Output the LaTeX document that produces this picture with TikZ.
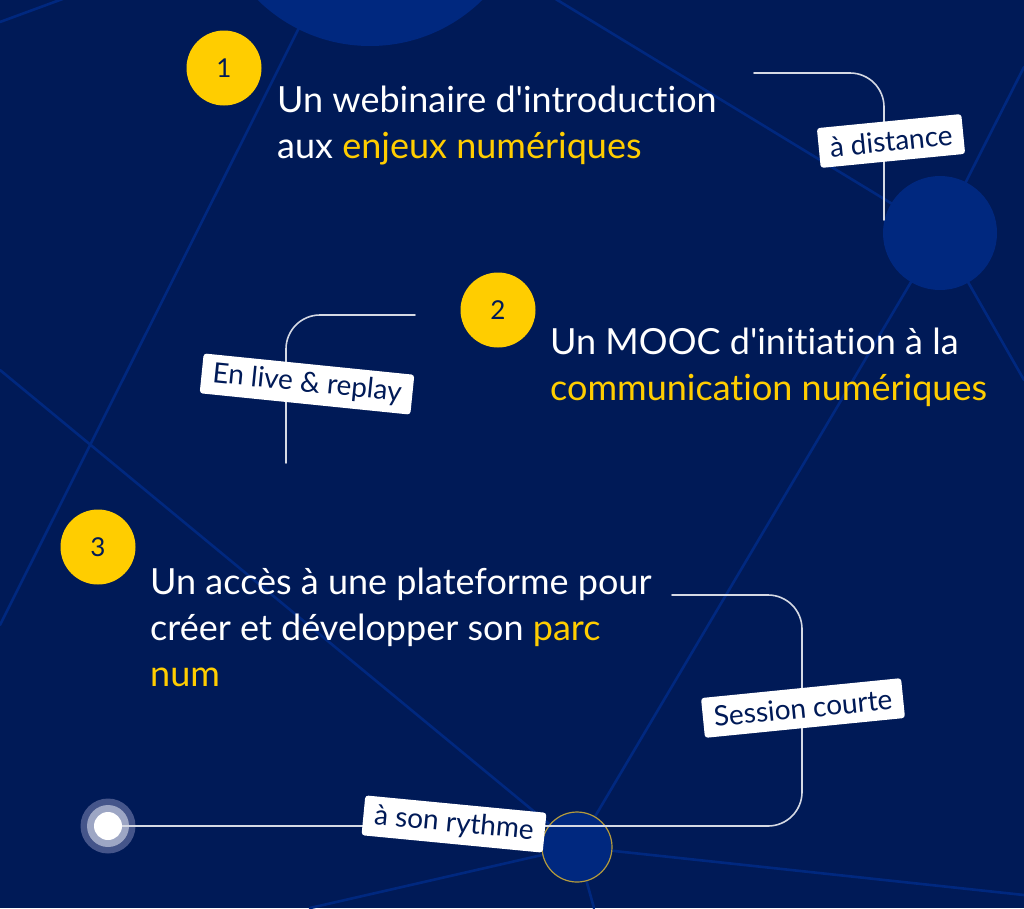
\documentclass[tikz,border=0pt]{standalone}
\usepackage{fontspec}
\setmainfont{Lato}[Ligatures=NoCommon]
\definecolor{navy}{HTML}{001A57}
\definecolor{deepblue}{HTML}{00287F}
\definecolor{sun}{HTML}{FFCD00}
\definecolor{wirec}{HTML}{D5D9E4}
\definecolor{halo}{HTML}{45558A}
\definecolor{ringc}{HTML}{9DA6C4}
\definecolor{gold}{HTML}{B59A3C}
\begin{document}
\begin{tikzpicture}[x=1pt,y=-1pt,line join=round,line cap=round,
		hub/.style={circle,fill=deepblue,inner sep=0pt},
		badge/.style={circle,fill=sun,text=navy,minimum size=75pt,inner sep=0pt,font=\fontsize{26}{26}\selectfont},
		item/.style={anchor=base west,align=left,text=white,inner sep=0pt,font=\fontsize{36}{46}\selectfont},
		tag/.style={fill=white,text=navy,rounded corners=3pt,minimum height=40pt,inner xsep=11pt,font=\fontsize{28}{28}\selectfont},
		wire/.style={draw=wirec,line width=1.6pt,rounded corners=34pt},
		net/.style={draw=deepblue,line width=2.6pt}]
	\clip (0,0) rectangle (1024,908);
	\fill[navy] (0,0) rectangle (1024,908);
	% fond : reseau
	\path
	(370,-114) coordinate (T)
	(940,233) coordinate (R)
	(577,847) coordinate (B)
	(0,22) coordinate (e1) (0,625) coordinate (e2) (0,370) coordinate (e3)
	(1024,67) coordinate (e4) (1024,380) coordinate (e5) (1024,895) coordinate (e6)
	(310,908) coordinate (e7) (594,908) coordinate (e8)
	;
	\draw[net] (e1)--(T)--(R)--(B)--(e3) (T)--(e2) (e4)--(R)--(e5) (e6)--(B)--(e7) (B)--(e8);
	\node[hub,minimum size=320pt] (top) at (T) {};
	\node[hub,minimum size=114pt] (right) at (R) {};
	\node[hub,minimum size=70pt,draw=gold,line width=1.2pt] (low) at (B) {};
	% etapes
	\foreach \n/\p in {1/{(224,68)},2/{(498,310)},3/{(98,547)}}
	\node[badge] (n\n) at \p {\n};
	\node[item] (txt1) at (277,158) {Un webinaire d\textquotesingle introduction\\aux \textcolor{sun}{enjeux numériques}};
	\node[item] (txt2) at (550,400) {Un MOOC d\textquotesingle initiation à la\\\textcolor{sun}{communication numériques}};
	\node[item] (txt3) at (150,686) {Un accès à une plateforme pour\\créer et développer son \textcolor{sun}{parc}\\\textcolor{sun}{num}};
	% liens
	\path
	(754,73) coordinate (w1a) (884,220) coordinate (w1b)
	(415,315) coordinate (w2a) (286,463) coordinate (w2b)
	(672,595) coordinate (w3a) (802,826) coordinate (w3b)
	(108,826) coordinate (D)
	;
	\fill[halo] (D) circle (27.5);
	\fill[ringc] (D) circle (21);
	\draw[wire] (w1a) -| (w1b);
	\draw[wire] (w2a) -| (w2b);
	\draw[wire] (w3a) -| (w3b) -- (D);
	\node[circle,fill=white,minimum size=28pt,inner sep=0pt] (dot) at (D) {};
	\node[tag,rotate=5.6] (t1) at (891,141) {à distance};
	\node[tag,rotate=-5.8] (t2) at (307,384) {En live \& replay};
	\node[tag,rotate=5.7] (t3) at (803,708) {Session courte};
	\node[tag,rotate=-5.5] (t4) at (454,824) {à son rythme};
\end{tikzpicture}
\end{document}
